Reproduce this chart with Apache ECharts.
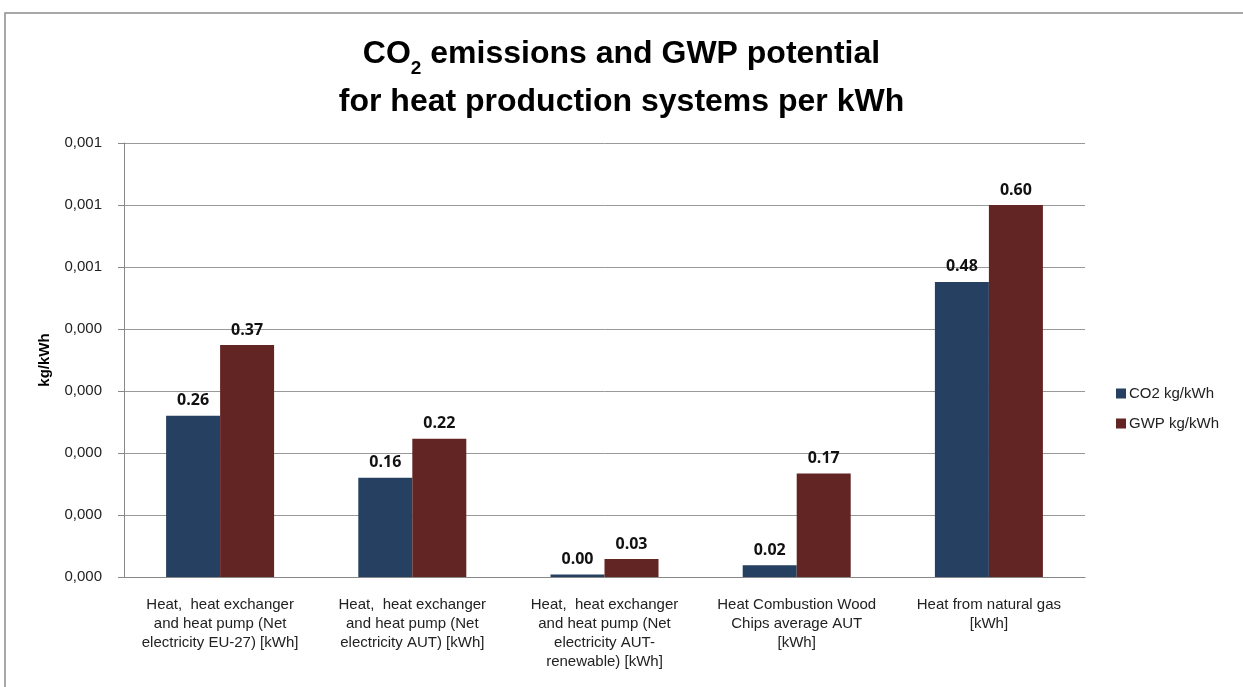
<!DOCTYPE html>
<html><head><meta charset="utf-8">
<script src="https://cdn.jsdelivr.net/npm/echarts@6/dist/echarts.min.js"></script>
<style>html,body{margin:0;padding:0;background:#fff}#c{width:1243px;height:687px}</style>
</head><body><div id="c"></div>
<script>
const categories = [
  "Heat,  heat exchanger\nand heat pump (Net\nelectricity EU-27) [kWh]",
  "Heat,  heat exchanger\nand heat pump (Net\nelectricity AUT) [kWh]",
  "Heat,  heat exchanger\nand heat pump (Net\nelectricity AUT-\nrenewable) [kWh]",
  "Heat Combustion Wood\nChips average AUT\n[kWh]",
  "Heat from natural gas\n[kWh]"
];
const co2Values = [0.26, 0.16, 0.004, 0.019, 0.476];
const gwpValues = [0.374, 0.223, 0.029, 0.167, 0.600];
const yTickLabels = ["0,000","0,000","0,000","0,000","0,000","0,001","0,001","0,001"];
const seriesNames = ["CO2 kg/kWh", "GWP kg/kWh"];

const sans = "'Liberation Sans',sans-serif";
const chart = echarts.init(document.getElementById('c'), null, {renderer:'canvas'});
const lbl = {show:true, position:'top', distance:7, fontWeight:'bold', fontSize:16, color:'#111',
  fontFamily:"'Open Sans','Noto Sans',sans-serif", formatter:p=>p.value.toFixed(2)};
chart.setOption({
  animation:false,
  graphic:[{type:'rect', shape:{x:5,y:13,width:1260,height:700}, style:{fill:'none', stroke:'#8c8c8c', lineWidth:1.5}, silent:true}],
  title:{
    text:'{a|CO}{s|2}{a| emissions and GWP potential}\n{a|for heat production systems per kWh}',
    left:'center', top:25,
    textStyle:{rich:{
      a:{fontSize:32, fontWeight:'bold', fontFamily:sans, color:'#000', lineHeight:48},
      s:{fontSize:19, fontWeight:'bold', fontFamily:sans, color:'#000', verticalAlign:'bottom', padding:[10,0,0,0], lineHeight:48}
    }}
  },
  legend:{
    orient:'vertical', left:1111, top:381, itemWidth:10, itemHeight:10, itemGap:15,
    icon:'rect',
    textStyle:{fontSize:15, color:'#222', fontFamily:sans, padding:[0,0,0,-2]},
    data:seriesNames
  },
  grid:{left:124, right:158, top:143, bottom:110, containLabel:false},
  xAxis:{
    type:'category', data:categories,
    axisLine:{lineStyle:{color:'#888'}},
    axisTick:{show:false},
    axisLabel:{interval:0, fontSize:15, color:'#222', fontFamily:sans, lineHeight:19, margin:18}
  },
  yAxis:{
    type:'value', min:0, max:0.7, interval:0.1,
    name:'kg/kWh', nameLocation:'middle', nameGap:72, nameRotate:90,
    nameTextStyle:{fontWeight:'bold', fontSize:15, color:'#000', fontFamily:sans},
    axisLine:{show:true, lineStyle:{color:'#888'}},
    axisTick:{show:true, length:6, lineStyle:{color:'#888'}},
    splitLine:{lineStyle:{color:'#999', width:1}},
    axisLabel:{fontSize:15, color:'#222', fontFamily:sans, margin:22,
      formatter:(v)=>yTickLabels[Math.round(v*10)]}
  },
  series:[
    {name:seriesNames[0], type:'bar', data:co2Values, barWidth:54, barGap:'0%', itemStyle:{color:'#254061'}, label:lbl},
    {name:seriesNames[1], type:'bar', data:gwpValues, barWidth:54, barGap:'0%', itemStyle:{color:'#632523'}, label:lbl}
  ]
});
</script></body></html>
